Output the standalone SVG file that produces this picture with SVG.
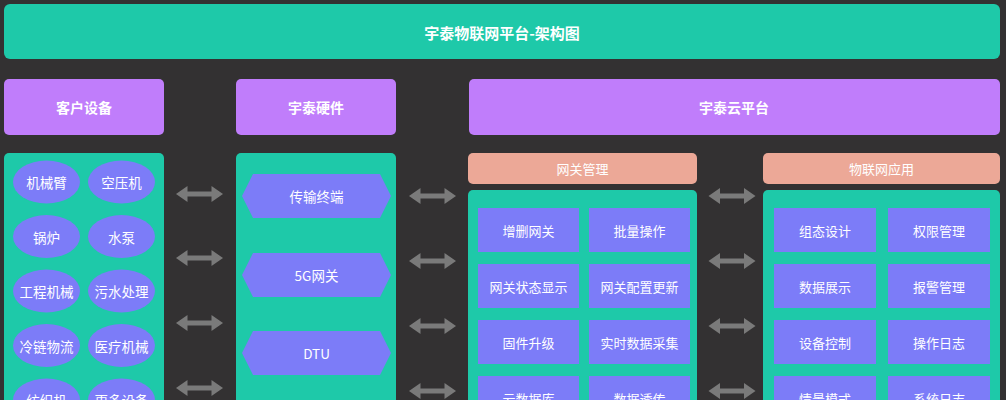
<svg xmlns="http://www.w3.org/2000/svg" xmlns:xlink="http://www.w3.org/1999/xlink" width="1006" height="400" viewBox="0 0 1006 400">
<style>
.bg{fill:#333132}
.teal{fill:#1ec9a9}
.purple{fill:#c07dfb}
.salmon{fill:#eca897}
.violet{fill:#7c7cf8}
.arrow{fill:#7a7a7a}
text{font-family:"Noto Sans CJK SC","Liberation Sans",sans-serif;fill:#ffffff;text-anchor:middle;dominant-baseline:central}
.t1{font-size:15px;font-weight:bold}
.t2{font-size:14px;font-weight:bold}
.t3{font-size:13px}
.t4{font-size:13.5px}
</style>
<defs>
<path id="dbl" class="arrow" d="M-23.5,0 L-12,-8 L-12,-2.5 L12,-2.5 L12,-8 L23.5,0 L12,8 L12,2.5 L-12,2.5 L-12,8 Z"/>
</defs>
<rect class="bg" x="0" y="0" width="1006" height="400"/>

<g id="title">
<rect class="teal" x="4" y="4" width="996" height="55" rx="6"/>
<text class="t1" x="502" y="32">宇泰物联网平台-架构图</text>
</g>

<g id="hdr-client">
<rect class="purple" x="4" y="79" width="160" height="56" rx="5"/>
<text class="t2" x="84" y="107">客户设备</text>
</g>
<g id="hdr-hardware">
<rect class="purple" x="236" y="79" width="160" height="56" rx="5"/>
<text class="t2" x="316" y="107">宇泰硬件</text>
</g>
<g id="hdr-cloud">
<rect class="purple" x="469" y="79" width="531" height="56" rx="5"/>
<text class="t2" x="734" y="107">宇泰云平台</text>
</g>

<g id="client-devices">
<rect class="teal" x="4" y="153" width="160" height="262" rx="5"/>
<ellipse class="violet" cx="46.5" cy="182" rx="33.5" ry="21.5"/>
<text class="t4" x="46.5" y="182">机械臂</text>
<ellipse class="violet" cx="121.5" cy="182" rx="33.5" ry="21.5"/>
<text class="t4" x="121.5" y="182">空压机</text>
<ellipse class="violet" cx="46.5" cy="236.5" rx="33.5" ry="21.5"/>
<text class="t4" x="46.5" y="236.5">锅炉</text>
<ellipse class="violet" cx="121.5" cy="236.5" rx="33.5" ry="21.5"/>
<text class="t4" x="121.5" y="236.5">水泵</text>
<ellipse class="violet" cx="46.5" cy="291" rx="33.5" ry="21.5"/>
<text class="t4" x="46.5" y="291">工程机械</text>
<ellipse class="violet" cx="121.5" cy="291" rx="33.5" ry="21.5"/>
<text class="t4" x="121.5" y="291">污水处理</text>
<ellipse class="violet" cx="46.5" cy="345.5" rx="33.5" ry="21.5"/>
<text class="t4" x="46.5" y="345.5">冷链物流</text>
<ellipse class="violet" cx="121.5" cy="345.5" rx="33.5" ry="21.5"/>
<text class="t4" x="121.5" y="345.5">医疗机械</text>
<ellipse class="violet" cx="46.5" cy="400" rx="33.5" ry="21.5"/>
<text class="t4" x="46.5" y="400">纺织机</text>
<ellipse class="violet" cx="121.5" cy="400" rx="33.5" ry="21.5"/>
<text class="t4" x="121.5" y="400">更多设备</text>
</g>

<g id="hardware">
<rect class="teal" x="236" y="153" width="160" height="262" rx="5"/>
<polygon class="violet" points="242,196 253,174 380,174 391,196 380,218 253,218"/>
<text class="t4" x="316.5" y="196">传输终端</text>
<polygon class="violet" points="242,275 253,253 380,253 391,275 380,297 253,297"/>
<text class="t4" x="316.5" y="275">5G网关</text>
<polygon class="violet" points="242,353 253,331 380,331 391,353 380,375 253,375"/>
<text class="t4" x="316.5" y="353">DTU</text>
</g>

<g id="gateway-mgmt">
<rect class="salmon" x="468" y="153" width="229" height="31" rx="5"/>
<text class="t3" x="582.5" y="168.5">网关管理</text>
<rect class="teal" x="468" y="190" width="229" height="225" rx="5"/>
<rect class="violet" x="478" y="208" width="101" height="44"/>
<text class="t3" x="528.5" y="230">增删网关</text>
<rect class="violet" x="589" y="208" width="101" height="44"/>
<text class="t3" x="639.5" y="230">批量操作</text>
<rect class="violet" x="478" y="264" width="101" height="44"/>
<text class="t3" x="528.5" y="286">网关状态显示</text>
<rect class="violet" x="589" y="264" width="101" height="44"/>
<text class="t3" x="639.5" y="286">网关配置更新</text>
<rect class="violet" x="478" y="320" width="101" height="44"/>
<text class="t3" x="528.5" y="342">固件升级</text>
<rect class="violet" x="589" y="320" width="101" height="44"/>
<text class="t3" x="639.5" y="342">实时数据采集</text>
<rect class="violet" x="478" y="376" width="101" height="44"/>
<text class="t3" x="528.5" y="398">云数据库</text>
<rect class="violet" x="589" y="376" width="101" height="44"/>
<text class="t3" x="639.5" y="398">数据透传</text>
</g>

<g id="iot-apps">
<rect class="salmon" x="763" y="153" width="237" height="31" rx="5"/>
<text class="t3" x="881.5" y="168.5">物联网应用</text>
<rect class="teal" x="763" y="190" width="237" height="225" rx="5"/>
<rect class="violet" x="774" y="208" width="102" height="44"/>
<text class="t3" x="825" y="230">组态设计</text>
<rect class="violet" x="888" y="208" width="102" height="44"/>
<text class="t3" x="939" y="230">权限管理</text>
<rect class="violet" x="774" y="264" width="102" height="44"/>
<text class="t3" x="825" y="286">数据展示</text>
<rect class="violet" x="888" y="264" width="102" height="44"/>
<text class="t3" x="939" y="286">报警管理</text>
<rect class="violet" x="774" y="320" width="102" height="44"/>
<text class="t3" x="825" y="342">设备控制</text>
<rect class="violet" x="888" y="320" width="102" height="44"/>
<text class="t3" x="939" y="342">操作日志</text>
<rect class="violet" x="774" y="376" width="102" height="44"/>
<text class="t3" x="825" y="398">情景模式</text>
<rect class="violet" x="888" y="376" width="102" height="44"/>
<text class="t3" x="939" y="398">系统日志</text>
</g>

<g id="connectors">
<use href="#dbl" xlink:href="#dbl" x="199.5" y="194"/>
<use href="#dbl" xlink:href="#dbl" x="199.5" y="258"/>
<use href="#dbl" xlink:href="#dbl" x="199.5" y="323"/>
<use href="#dbl" xlink:href="#dbl" x="199.5" y="388"/>
<use href="#dbl" xlink:href="#dbl" x="432.5" y="196"/>
<use href="#dbl" xlink:href="#dbl" x="432.5" y="261"/>
<use href="#dbl" xlink:href="#dbl" x="432.5" y="326"/>
<use href="#dbl" xlink:href="#dbl" x="432.5" y="391"/>
<use href="#dbl" xlink:href="#dbl" x="732" y="196"/>
<use href="#dbl" xlink:href="#dbl" x="732" y="261"/>
<use href="#dbl" xlink:href="#dbl" x="732" y="326"/>
<use href="#dbl" xlink:href="#dbl" x="732" y="391"/>
</g>
</svg>
